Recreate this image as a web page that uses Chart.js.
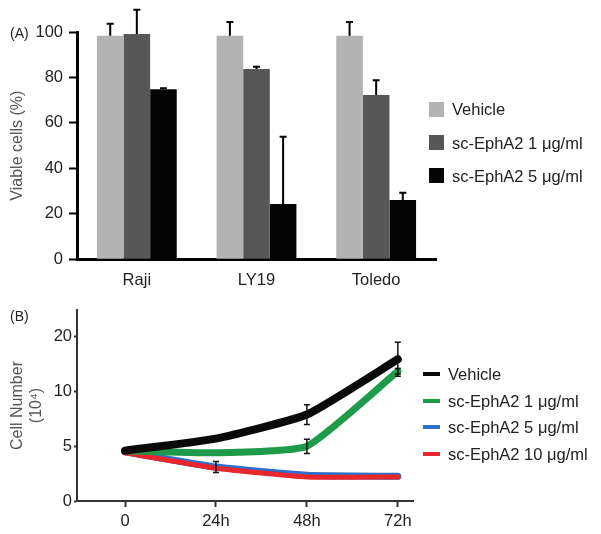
<!DOCTYPE html>
<html>
<head>
<meta charset="utf-8">
<script src="https://cdn.jsdelivr.net/npm/chart.js@4.4.1/dist/chart.umd.min.js"></script>
<style>
  body { margin: 0; background: #fff; font-family: 'Liberation Sans', Arial, sans-serif; }
  #wrap { position: relative; width: 601px; height: 534px; overflow: hidden; }
  canvas { position: absolute; left: 0; }
  #chartA { top: 0; }
  #chartB { top: 290px; }
  .tag { position: absolute; left: 10px; font-size: 14px; color: #222; line-height: 16px; }
  .legend { position: absolute; font-size: 16.5px; color: #222; }
  .legend .item { position: absolute; left: 0; height: 20px; line-height: 20px; white-space: nowrap; }
  .legend .swatch { position: absolute; left: 0; }
  .legend .label { position: absolute; }
</style>
</head>
<body>
<div id="wrap">
  <canvas id="chartA" width="601" height="290"></canvas>
  <canvas id="chartB" width="601" height="244"></canvas>
  <div class="tag" style="top:25px">(A)</div>
  <div class="tag" style="top:308px">(B)</div>
  <div class="legend" id="legendA" style="left:429px; top:0"></div>
  <div class="legend" id="legendB" style="left:423px; top:0"></div>
</div>
<script>
// ---- panel A: viable cells (%) ----
const groupsA = ['Raji', 'LY19', 'Toledo'];
const seriesA = ['Vehicle', 'sc-EphA2 1 \u03bcg/ml', 'sc-EphA2 5 \u03bcg/ml'];
const vehicleA = [98.4, 98.4, 98.4];
const dose1A = [99.1, 83.7, 72.3];
const dose5A = [74.8, 24.3, 26.1];
const vehicleErrA = [5.2, 6.0, 6.0];
const dose1ErrA = [10.7, 1.0, 6.5];
const dose5ErrA = [0.5, 29.6, 3.2];
const yTicksA = [0, 20, 40, 60, 80, 100];

// ---- panel B: cell number (10^4) over time ----
const hoursB = [0, 24, 48, 72];
const hourLabelsB = ['0', '24h', '48h', '72h'];
const seriesB = ['Vehicle', 'sc-EphA2 1 \u03bcg/ml', 'sc-EphA2 5 \u03bcg/ml', 'sc-EphA2 10 \u03bcg/ml'];
const vehicleB = [4.6, 5.7, 7.9, 15.9];
const dose1B = [4.6, 4.4, 5.0, 13.7];
const dose5B = [4.5, 3.1, 2.35, 2.25];
const dose10B = [4.4, 3.0, 2.2, 2.2];
const vehicleErrB = [0, 0, 0.9, 3.1];
const dose1ErrB = [0, 0, 0.65, 0.5];
const dose5ErrB = [0, 0.5, 0, 0];
const dose10ErrB = [0, 0, 0, 0];
const yTicksB = [0, 5, 10, 20];

const coloursA = ['#b3b3b3', '#575757', '#050505'];
const coloursB = ['#0a0a0a', '#1d9a4a', '#2c6fcc', '#e8262b'];

Chart.defaults.font.family = "'Liberation Sans', Arial, sans-serif";
Chart.defaults.font.size = 16.5;
Chart.defaults.color = '#222';

// error bars drawn from dataset.errors
const errorBars = {
  id: 'errorBars',
  afterDatasetsDraw(chart, args, opts) {
    const ctx = chart.ctx;
    const yScale = chart.scales.y;
    ctx.save();
    ctx.strokeStyle = opts.color;
    ctx.lineWidth = opts.width;
    chart.data.datasets.forEach((ds, i) => {
      if (!ds.errors) return;
      const meta = chart.getDatasetMeta(i);
      meta.data.forEach((el, j) => {
        const err = ds.errors[j];
        if (!err) return;
        const raw = ds.data[j];
        const v = typeof raw === 'object' ? raw.y : raw;
        const top = yScale.getPixelForValue(v + err);
        const bottom = opts.upOnly ? el.y : yScale.getPixelForValue(v - err);
        ctx.beginPath();
        ctx.moveTo(el.x, bottom);
        ctx.lineTo(el.x, top);
        ctx.moveTo(el.x - opts.cap, top);
        ctx.lineTo(el.x + opts.cap, top);
        if (!opts.upOnly) {
          ctx.moveTo(el.x - opts.cap, bottom);
          ctx.lineTo(el.x + opts.cap, bottom);
        }
        ctx.stroke();
      });
    });
    ctx.restore();
  }
};

// y axis of panel B is broken above 10: the upper part is squeezed by half
const BREAK_AT = 10;
const squeeze = v => v <= BREAK_AT ? v : BREAK_AT + (v - BREAK_AT) / 2;
const unsqueeze = u => u <= BREAK_AT ? u : BREAK_AT + (u - BREAK_AT) * 2;

class BrokenScale extends Chart.LinearScale {
  static id = 'broken';
  getPixelForValue(value) {
    if (value === null || value === undefined) return NaN;
    const lo = squeeze(this.min), hi = squeeze(this.max);
    return this.getPixelForDecimal((squeeze(value) - lo) / (hi - lo));
  }
  getValueForPixel(pixel) {
    const lo = squeeze(this.min), hi = squeeze(this.max);
    return unsqueeze(lo + this.getDecimalForPixel(pixel) * (hi - lo));
  }
}
Chart.register(BrokenScale);

new Chart(document.getElementById('chartA'), {
  type: 'bar',
  data: {
    labels: groupsA,
    datasets: [
      { label: seriesA[0], data: vehicleA, errors: vehicleErrA, backgroundColor: coloursA[0] },
      { label: seriesA[1], data: dose1A, errors: dose1ErrA, backgroundColor: coloursA[1] },
      { label: seriesA[2], data: dose5A, errors: dose5ErrA, backgroundColor: coloursA[2] }
    ]
  },
  options: {
    responsive: false,
    animation: false,
    devicePixelRatio: 1,
    datasets: { bar: { categoryPercentage: 0.667, barPercentage: 1, borderWidth: 0 } },
    layout: { padding: { top: 32, right: 165, bottom: 0, left: 0 } },
    scales: {
      x: {
        grid: { display: false, drawTicks: false },
        border: { display: true, color: '#000', width: 3 },
        ticks: { padding: 11, color: '#222' },
        afterFit: s => { s.height = 30.7; }
      },
      y: {
        min: 0,
        max: 100,
        afterBuildTicks: s => { s.ticks = yTicksA.map(v => ({ value: v })); },
        grid: { display: true, drawOnChartArea: false, drawTicks: true, tickLength: 8, tickColor: '#000', tickWidth: 2 },
        border: { display: true, color: '#000', width: 3 },
        ticks: { padding: 6, color: '#222' },
        title: { display: true, text: 'Viable cells (%)', color: '#555', font: { size: 16 }, padding: { top: 8, bottom: 0 } },
        afterFit: s => { s.width = 77; }
      }
    },
    plugins: {
      legend: { display: false },
      tooltip: { enabled: false },
      errorBars: { color: '#000', width: 2, cap: 3.5, upOnly: true }
    }
  },
  plugins: [errorBars]
});

const seriesDataB = [vehicleB, dose1B, dose5B, dose10B];
const seriesErrB = [vehicleErrB, dose1ErrB, dose5ErrB, dose10ErrB];
const widthsB = [8, 7, 7, 5];
const orderB = [1, 2, 4, 3];

new Chart(document.getElementById('chartB'), {
  type: 'line',
  data: {
    datasets: seriesB.map((name, i) => ({
      label: name,
      data: hoursB.map((h, j) => ({ x: h, y: seriesDataB[i][j] })),
      errors: seriesErrB[i],
      borderColor: coloursB[i],
      borderWidth: widthsB[i],
      borderCapStyle: 'round',
      borderJoinStyle: 'round',
      pointRadius: 0,
      tension: 0.15,
      order: orderB[i]
    }))
  },
  options: {
    responsive: false,
    animation: false,
    devicePixelRatio: 1,
    layout: { padding: { top: 20, right: 188, bottom: 0, left: 0 } },
    scales: {
      x: {
        type: 'linear',
        min: -12.67,
        max: 76,
        afterBuildTicks: s => { s.ticks = hoursB.map(v => ({ value: v })); },
        grid: { display: true, drawOnChartArea: false, drawTicks: true, tickLength: 6, tickColor: '#333', tickWidth: 2 },
        border: { display: true, color: '#333', width: 2 },
        ticks: { padding: 5, color: '#222', callback: v => hourLabelsB[hoursB.indexOf(v)] },
        afterFit: s => { s.height = 33; }
      },
      y: {
        type: 'broken',
        min: 0,
        max: 24.9,
        afterBuildTicks: s => { s.ticks = yTicksB.map(v => ({ value: v })); },
        grid: { display: true, drawOnChartArea: false, drawTicks: true, tickLength: 3, tickColor: '#333', tickWidth: 2 },
        border: { display: true, color: '#333', width: 2 },
        ticks: { padding: 2, color: '#222', callback: v => String(v) },
        title: { display: true, text: ['Cell Number', '(10\u2074)'], color: '#555', font: { size: 16 }, padding: { top: 8, bottom: 0 } },
        afterFit: s => { s.width = 77; }
      }
    },
    plugins: {
      legend: { display: false },
      tooltip: { enabled: false },
      errorBars: { color: '#111', width: 1.5, cap: 3, upOnly: false }
    }
  },
  plugins: [errorBars]
});

// html legends built from the same series lists
const legendA = document.getElementById('legendA');
const rowsA = [109, 142.5, 175.5];
seriesA.forEach((name, i) => {
  const item = document.createElement('div');
  item.className = 'item';
  item.style.top = (rowsA[i] - 10) + 'px';
  item.innerHTML = '<span class="swatch" style="top:2.5px;width:15px;height:15px;background:' + coloursA[i] + '"></span>' +
    '<span class="label" style="left:23px">' + name + '</span>';
  legendA.appendChild(item);
});

const legendB = document.getElementById('legendB');
const rowsB = [373.5, 400.5, 427, 453.5];
seriesB.forEach((name, i) => {
  const item = document.createElement('div');
  item.className = 'item';
  item.style.top = (rowsB[i] - 10) + 'px';
  item.innerHTML = '<span class="swatch" style="top:8px;width:17px;height:4px;background:' + coloursB[i] + '"></span>' +
    '<span class="label" style="left:25px">' + name + '</span>';
  legendB.appendChild(item);
});
</script>
</body>
</html>
